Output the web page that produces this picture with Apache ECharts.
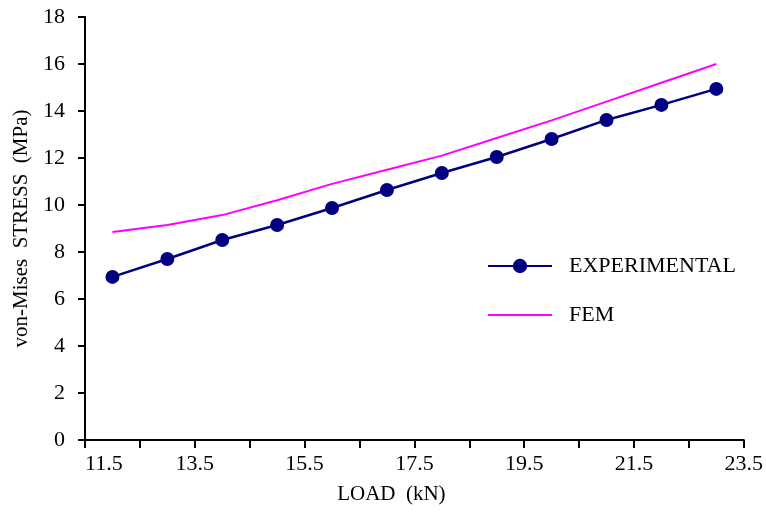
<!DOCTYPE html>
<html><head><meta charset="utf-8">
<script src="https://cdn.jsdelivr.net/npm/echarts@6/dist/echarts.min.js"></script>
<style>html,body{margin:0;padding:0;background:#fff}#c{width:766px;height:514px}</style>
</head><body><div id="c"></div>
<script>
const loads = [12, 13, 14, 15, 16, 17, 18, 19, 20, 21, 22, 23];
const experimental = [6.94, 7.70, 8.51, 9.15, 9.87, 10.64, 11.36, 12.04, 12.81, 13.62, 14.26, 14.94];
const fem = [8.85, 9.15, 9.57, 10.2, 10.9, 11.5, 12.1, 12.85, 13.6, 14.4, 15.2, 16.0];
const xTickLabels = ['11.5', '13.5', '15.5', '17.5', '19.5', '21.5', '23.5'];
const xMin = 11.5, xMax = 23.5;

const font = 'Liberation Serif';
const chart = echarts.init(document.getElementById('c'));
chart.setOption({
  animation: false,
  backgroundColor: '#fff',
  grid: { left: 85, right: 21, top: 17, bottom: 74, containLabel: false },
  legend: {
    orient: 'vertical', left: 487, top: 255, padding: 0,
    itemWidth: 64, itemHeight: 18, itemGap: 27,
    textStyle: { fontFamily: font, fontSize: 22, color: '#000', padding: [0, 0, 0, 12] },
    data: [
      { name: 'EXPERIMENTAL' },
      { name: 'FEM', icon: 'path://M0 0H64V2.2H0Z' }
    ]
  },
  xAxis: [
    { type: 'value', min: xMin, max: xMax, show: false },
    {
      type: 'value', min: 0, max: xMax - xMin, interval: 1, position: 'bottom',
      name: 'LOAD  (kN)', nameLocation: 'middle', nameGap: 44,
      nameTextStyle: { fontFamily: font, fontSize: 21, color: '#000', padding: [0, 46, 0, 0] },
      axisLine: { lineStyle: { color: '#000', width: 2 } },
      axisTick: { length: 8, lineStyle: { color: '#000', width: 2 } },
      axisLabel: { fontFamily: font, fontSize: 22, color: '#000', margin: 13, alignMinLabel: 'left',
        formatter: v => (Math.round(v) % 2 === 0 ? xTickLabels[Math.round(v) / 2] : '') },
      splitLine: { show: false }
    }
  ],
  yAxis: {
    type: 'value', min: 0, max: 18, interval: 2,
    name: 'von-Mises  STRESS  (MPa)', nameLocation: 'middle', nameGap: 51, nameRotate: 90,
    nameTextStyle: { fontFamily: font, fontSize: 21, color: '#000' },
    axisLine: { show: true, lineStyle: { color: '#000', width: 2 } },
    axisTick: { show: true, length: 7, lineStyle: { color: '#000', width: 2 } },
    axisLabel: { fontFamily: font, fontSize: 22, color: '#000', margin: 20 },
    splitLine: { show: false }
  },
  series: [
    {
      name: 'EXPERIMENTAL', type: 'line', xAxisIndex: 0,
      data: loads.map((x, i) => [x, experimental[i]]),
      symbol: 'circle', symbolSize: 14,
      lineStyle: { color: '#000080', width: 2.5 },
      itemStyle: { color: '#000080' }
    },
    {
      name: 'FEM', type: 'line', xAxisIndex: 0,
      data: loads.map((x, i) => [x, fem[i]]),
      symbol: 'none', smooth: false,
      lineStyle: { color: '#ff00ff', width: 2 },
      itemStyle: { color: '#ff00ff' }
    }
  ]
});
</script></body></html>
